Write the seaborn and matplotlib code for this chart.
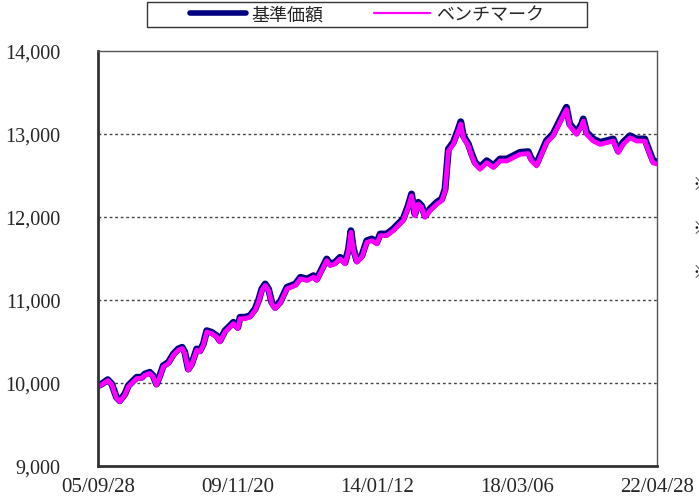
import numpy as np
import pandas as pd
import seaborn as sns
import matplotlib.pyplot as plt
from matplotlib.lines import Line2D
from matplotlib.patches import Rectangle


# dates
dates = ["2005-09-28", "2005-11-07", "2006-01-12", "2006-02-24", "2006-04-16", "2006-05-22",
         "2006-07-16", "2006-08-22", "2006-09-27", "2006-11-22", "2007-01-15", "2007-02-17",
         "2007-04-12", "2007-05-18", "2007-06-24", "2007-07-30", "2007-09-05", "2007-10-31",
         "2007-12-24", "2008-02-14", "2008-03-28", "2008-04-26", "2008-06-02", "2008-07-08",
         "2008-09-01", "2008-10-07", "2008-11-12", "2008-12-19", "2009-02-10", "2009-04-05",
         "2009-05-11", "2009-07-05", "2009-08-29", "2009-10-04", "2009-11-20", "2009-12-15",
         "2010-02-07", "2010-04-02", "2010-05-27", "2010-07-02", "2010-08-08", "2010-09-13",
         "2010-10-19", "2010-11-24", "2010-12-30", "2011-02-22", "2011-05-07", "2011-08-06",
         "2011-09-30", "2011-12-12", "2012-02-18", "2012-03-25", "2012-05-18", "2012-07-11",
         "2012-08-16", "2012-10-09", "2012-12-03", "2013-01-26", "2013-03-04", "2013-03-30",
         "2013-04-27", "2013-06-02", "2013-07-26", "2013-09-18", "2013-11-11", "2014-01-05",
         "2014-02-10", "2014-04-21", "2014-07-01", "2014-08-24", "2014-10-17", "2014-12-10",
         "2015-01-16", "2015-02-21", "2015-03-29", "2015-05-05", "2015-06-10", "2015-08-03",
         "2015-10-16", "2015-12-09", "2016-01-14", "2016-02-19", "2016-04-13", "2016-06-06",
         "2016-07-02", "2016-07-30", "2016-09-22", "2016-10-29", "2016-12-04", "2017-01-27",
         "2017-04-10", "2017-06-20", "2017-09-01", "2017-11-13", "2018-01-23", "2018-04-04",
         "2018-07-03", "2018-08-08", "2018-10-01", "2018-11-24", "2019-01-17", "2019-03-29",
         "2019-05-22", "2019-07-15", "2019-08-21", "2019-09-26", "2019-12-09", "2020-02-01",
         "2020-02-19", "2020-03-27", "2020-06-06", "2020-08-18", "2020-10-30", "2021-01-09",
         "2021-03-03", "2021-04-26", "2021-07-09", "2021-09-19", "2021-12-17", "2022-02-09",
         "2022-03-17", "2022-04-28"]

# 基準価額
nav = [9967, 9988, 10040, 9988, 9828, 9787, 9867, 9967, 10008, 10069,
       10069, 10108, 10129, 10088, 9988, 10088, 10208, 10249, 10349, 10410,
       10430, 10370, 10169, 10229, 10410, 10389, 10470, 10630, 10611, 10570,
       10510, 10630, 10690, 10731, 10671, 10792, 10792, 10811, 10892, 10992,
       11133, 11193, 11133, 10972, 10912, 10976, 11153, 11193, 11273, 11253,
       11293, 11253, 11373, 11494, 11434, 11454, 11514, 11454, 11614, 11835,
       11614, 11473, 11534, 11714, 11735, 11695, 11795, 11795, 11855, 11916,
       11976, 12136, 12277, 12036, 12177, 12136, 12016, 12096, 12177, 12217,
       12337, 12819, 12900, 13060, 13148, 12979, 12879, 12759, 12659, 12599,
       12678, 12618, 12699, 12699, 12738, 12779, 12787, 12699, 12638, 12779,
       12919, 13000, 13120, 13241, 13322, 13120, 13020, 13120, 13181, 13020,
       12940, 12900, 12919, 12940, 12799, 12900, 12979, 12940, 12940, 12779,
       12678, 12663]

# ベンチマーク
bench = [9960, 9980, 10030, 9980, 9815, 9775, 9855, 9955, 9995, 10055,
         10058, 10095, 10115, 10075, 9975, 10075, 10195, 10235, 10335, 10395,
         10415, 10355, 10155, 10215, 10395, 10375, 10455, 10615, 10595, 10555,
         10495, 10615, 10675, 10715, 10655, 10775, 10775, 10795, 10875, 10975,
         11115, 11175, 11115, 10955, 10895, 10960, 11135, 11175, 11255, 11235,
         11275, 11235, 11355, 11475, 11415, 11435, 11495, 11435, 11595, 11815,
         11595, 11455, 11515, 11695, 11715, 11675, 11775, 11775, 11835, 11895,
         11955, 12115, 12255, 12015, 12155, 12115, 11995, 12075, 12155, 12195,
         12315, 12795, 12875, 13035, 13120, 12955, 12855, 12735, 12635, 12575,
         12655, 12595, 12675, 12675, 12715, 12755, 12765, 12675, 12615, 12755,
         12895, 12975, 13095, 13215, 13295, 13095, 12995, 13095, 13155, 12995,
         12915, 12875, 12895, 12915, 12775, 12875, 12955, 12915, 12915, 12755,
         12650, 12640]

tick_dates = ["2005-09-28", "2009-11-20", "2014-01-12", "2018-03-06", "2022-04-28"]
tick_labels = ["05/09/28", "09/11/20", "14/01/12", "18/03/06", "22/04/28"]
y_ticks = [9000, 10000, 11000, 12000, 13000, 14000]

df = pd.DataFrame({"date": pd.to_datetime(dates), "基準価額": nav, "ベンチマーク": bench})
long = df.melt(id_vars="date", var_name="series", value_name="value")

sns.set_style("white")
plt.rcParams['font.family'] = ['Noto Sans CJK JP', 'DejaVu Sans']

fig = plt.figure(figsize=(6.99, 5.02), dpi=100)
ax = fig.add_axes([0.1402, 0.0697, 0.7997, 0.8267])

sns.lineplot(data=long[long.series == "基準価額"], x="date", y="value", color="#000080",
             linewidth=5.0, ax=ax, legend=False)
sns.lineplot(data=long[long.series == "ベンチマーク"], x="date", y="value", color="#FF00FF",
             linewidth=3.4, ax=ax, legend=False)

ax.set_xlim(pd.Timestamp(dates[0]), pd.Timestamp(dates[-1]))
ax.set_ylim(9000, 14000)
ax.set_xlabel("")
ax.set_ylabel("")

ax.set_yticks(y_ticks)
ax.set_yticklabels([f"{v:,}" for v in y_ticks], family="Liberation Serif", fontsize=14.5)
ax.set_xticks(pd.to_datetime(tick_dates))
ax.set_xticklabels(tick_labels, family="Liberation Serif", fontsize=15)
ax.tick_params(axis="x", direction="in", length=5, width=1, color="#333333", pad=8)
ax.tick_params(axis="y", length=0, pad=27)

# dotted grid
for v in y_ticks[1:-1]:
    ax.axhline(v, color="#444444", linewidth=1, linestyle=(0, (2, 2)), zorder=0)

for side in ["left", "bottom"]:
    ax.spines[side].set_color("#333333")
    ax.spines[side].set_linewidth(2)
for side in ["top", "right"]:
    ax.spines[side].set_color("#555555")
    ax.spines[side].set_linewidth(1)

# legend box drawn as its own rectangle (wide, flat)
fig.patches.append(Rectangle((147 / 699, 1 - 28 / 502), 440 / 699, 25 / 502,
                             transform=fig.transFigure, facecolor="white",
                             edgecolor="#333333", linewidth=1))
handles = [Line2D([], [], color="#000080", linewidth=4),
           Line2D([], [], color="#FF00FF", linewidth=1.6)]
leg = fig.legend(handles, ["基準価額", "ベンチマーク"], loc="center", bbox_to_anchor=(0.525, 0.969),
                 ncol=2, frameon=False, fontsize=13, handlelength=3.1,
                 columnspacing=2.8, borderpad=0.1, handletextpad=0.3)
for t in leg.get_texts():
    t.set_fontfamily(['Noto Sans CJK JP', 'DejaVu Sans'])

for yy in [0.631, 0.544, 0.456]:
    fig.text(0.990, yy, "※", fontsize=13, ha="left", va="center", color="#222222")

fig.savefig("out.png", dpi=100)
